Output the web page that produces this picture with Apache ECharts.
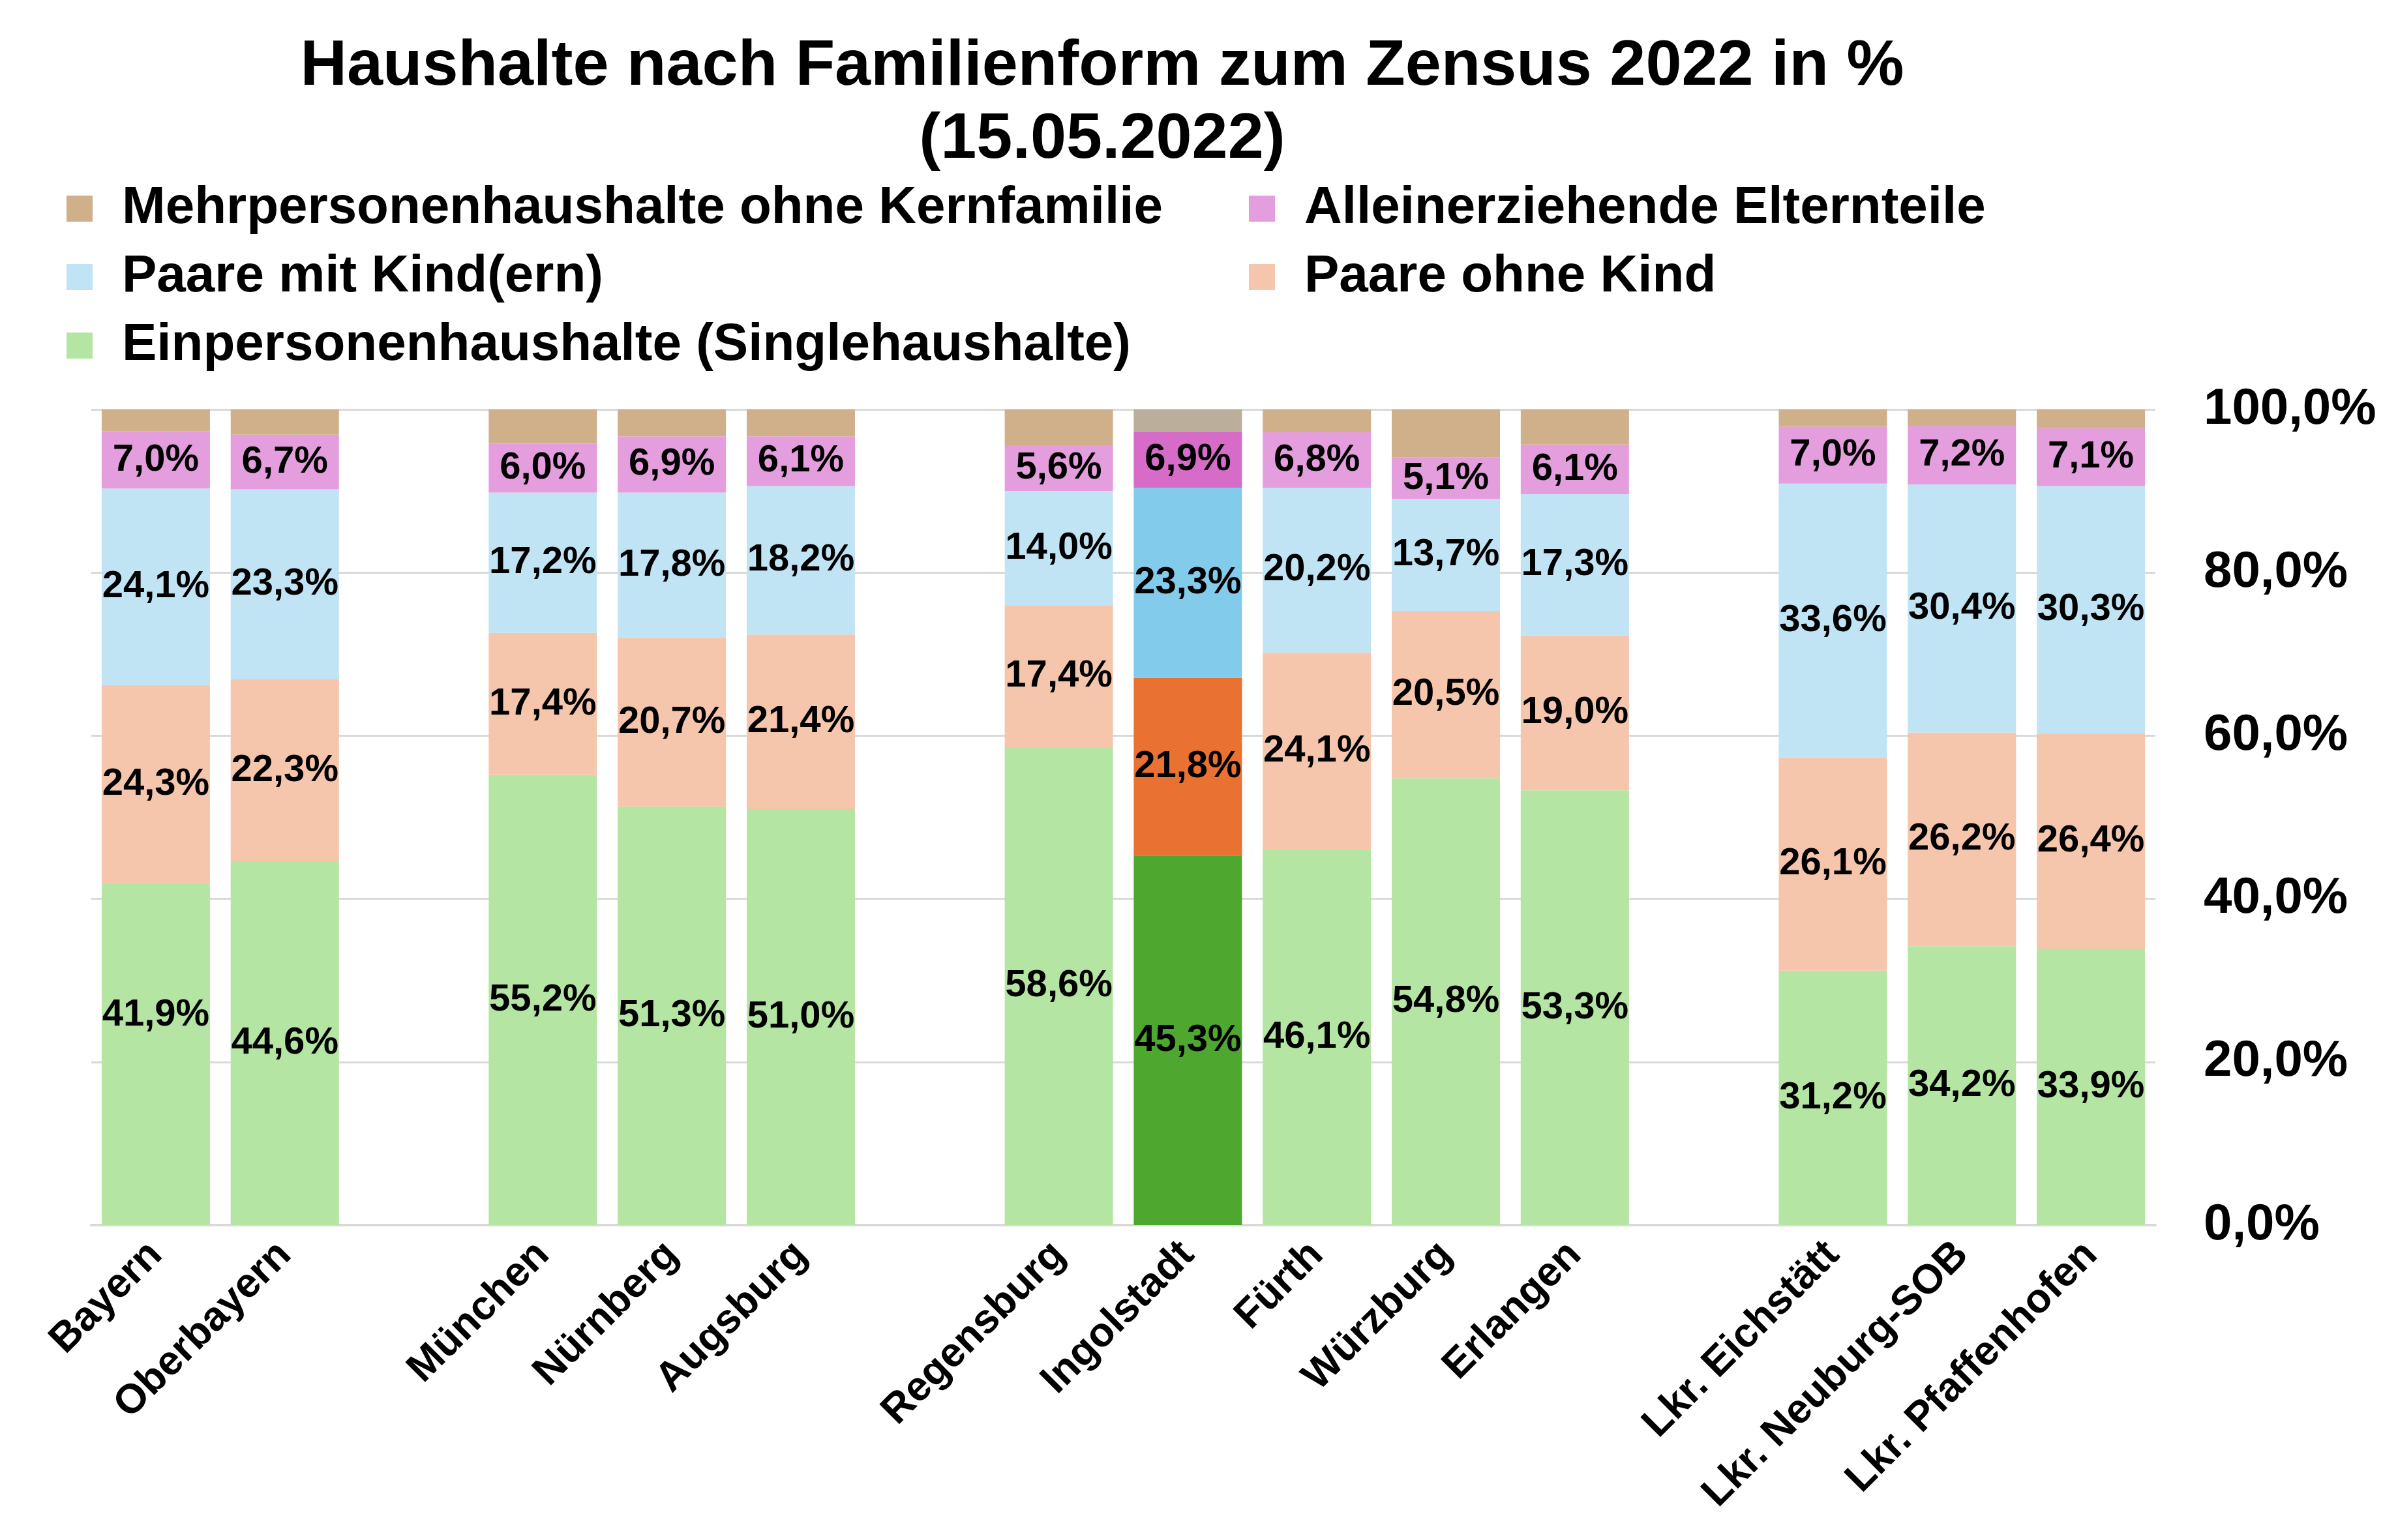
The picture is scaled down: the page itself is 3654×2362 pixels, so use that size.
<!DOCTYPE html>
<html>
<head>
<meta charset="utf-8">
<script src="https://cdn.jsdelivr.net/npm/echarts@6/dist/echarts.min.js"></script>
<style>
  html, body { margin: 0; padding: 0; background: #fff; }
  #chart { width: 3654px; height: 2362px; }
</style>
</head>
<body>
<div id="chart"></div>
<script>
// empty strings are the gaps between the groups of bars
const categories = ['Bayern', 'Oberbayern', '', 'München', 'Nürnberg', 'Augsburg', '',
    'Regensburg', 'Ingolstadt', 'Fürth', 'Würzburg', 'Erlangen', '',
    'Lkr. Eichstätt', 'Lkr. Neuburg-SOB', 'Lkr. Pfaffenhofen'];

const einpersonen    = [41.9, 44.6, null, 55.2, 51.3, 51.0, null, 58.6, 45.3, 46.1, 54.8, 53.3, null, 31.2, 34.2, 33.9];
const paareOhneKind  = [24.3, 22.3, null, 17.4, 20.7, 21.4, null, 17.4, 21.8, 24.1, 20.5, 19.0, null, 26.1, 26.2, 26.4];
const paareMitKind   = [24.1, 23.3, null, 17.2, 17.8, 18.2, null, 14.0, 23.3, 20.2, 13.7, 17.3, null, 33.6, 30.4, 30.3];
const alleinerz      = [7.0, 6.7, null, 6.0, 6.9, 6.1, null, 5.6, 6.9, 6.8, 5.1, 6.1, null, 7.0, 7.2, 7.1];
const mehrpersonen   = [2.7, 3.1, null, 4.2, 3.3, 3.3, null, 4.4, 2.7, 2.8, 5.9, 4.3, null, 2.1, 2.0, 2.3];

const highlightIndex = 8; // Ingolstadt

const FONT = "'Liberation Sans', Arial, sans-serif";

const chart = echarts.init(document.getElementById('chart'));

function fmt(v) {
    return v.toFixed(1).replace('.', ',') + '%';
}

function makeSeries(name, values, color, hiColor, withLabel) {
    return {
        name: name,
        type: 'bar',
        stack: 'total',
        barWidth: 166,
        itemStyle: { color: color },
        label: {
            show: withLabel,
            position: 'inside',
            color: '#000',
            fontFamily: FONT,
            fontWeight: 'bold',
            fontSize: 58,
            formatter: p => fmt(p.value)
        },
        emphasis: { disabled: true },
        data: values.map((v, i) => {
            if (v === null) return '-';
            const item = { value: v };
            if (i === highlightIndex) item.itemStyle = { color: hiColor };
            return item;
        })
    };
}

const series = [
    makeSeries('Einpersonenhaushalte (Singlehaushalte)', einpersonen, '#b5e5a2', '#4ea72e', true),
    makeSeries('Paare ohne Kind', paareOhneKind, '#f5c6ac', '#e97132', true),
    makeSeries('Paare mit Kind(ern)', paareMitKind, '#c1e4f5', '#83cbeb', true),
    makeSeries('Alleinerziehende Elternteile', alleinerz, '#e59edd', '#d76cc8', true),
    makeSeries('Mehrpersonenhaushalte ohne Kernfamilie', mehrpersonen, '#d0b08a', '#bbae9b', false)
];
// Bayern's single-household label sits a bit higher in the original
series[0].data[0].label = { offset: [0, -60] };

const legendText = {
    fontFamily: FONT,
    fontWeight: 'bold',
    fontSize: 80,
    lineHeight: 80,
    color: '#000',
    padding: [0, 0, 0, 40]
};

const option = {
    backgroundColor: '#fff',
    animation: false,
    title: {
        text: 'Haushalte nach Familienform zum Zensus 2022 in %\n(15.05.2022)',
        left: 1690,
        top: 47,
        padding: 0,
        textAlign: 'center',
        textStyle: {
            fontFamily: FONT,
            fontWeight: 'bold',
            fontSize: 99,
            lineHeight: 112,
            color: '#000'
        }
    },
    legend: [
        {
            orient: 'vertical',
            left: 102,
            top: 280,
            padding: 0,
            itemWidth: 40,
            itemHeight: 40,
            itemGap: 25,
            icon: 'rect',
            selectedMode: false,
            textStyle: legendText,
            data: ['Mehrpersonenhaushalte ohne Kernfamilie', 'Paare mit Kind(ern)', 'Einpersonenhaushalte (Singlehaushalte)']
        },
        {
            orient: 'vertical',
            left: 1915,
            top: 280,
            padding: 0,
            itemWidth: 40,
            itemHeight: 40,
            itemGap: 25,
            icon: 'rect',
            selectedMode: false,
            textStyle: legendText,
            data: ['Alleinerziehende Elternteile', 'Paare ohne Kind']
        }
    ],
    grid: {
        left: 140,
        right: 349,
        top: 628,
        bottom: 483,
        containLabel: false
    },
    xAxis: {
        type: 'category',
        data: categories,
        axisLine: { show: true, lineStyle: { color: '#d9d9d9', width: 4 } },
        axisTick: { show: false },
        axisLabel: {
            interval: 0,
            rotate: 45,
            margin: 36,
            color: '#000',
            fontFamily: FONT,
            fontWeight: 'bold',
            fontSize: 63
        }
    },
    yAxis: {
        type: 'value',
        position: 'right',
        min: 0,
        max: 100,
        interval: 20,
        axisLine: { show: false },
        axisTick: { show: false },
        splitLine: { lineStyle: { color: '#d9d9d9', width: 3 } },
        axisLabel: {
            margin: 74,
            color: '#000',
            fontFamily: FONT,
            fontWeight: 'bold',
            fontSize: 78,
            formatter: v => fmt(v)
        }
    },
    series: series
};

chart.setOption(option);
</script>
</body>
</html>
